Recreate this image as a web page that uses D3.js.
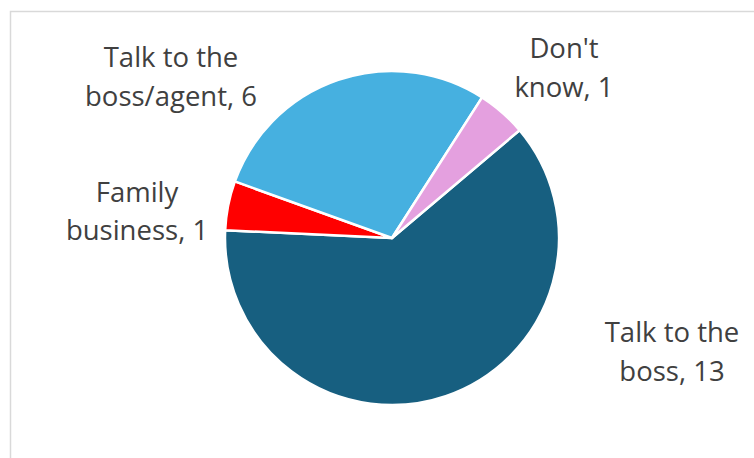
<!DOCTYPE html>
<html>
<head>
<meta charset="utf-8">
<script src="https://cdn.jsdelivr.net/npm/d3@7/dist/d3.min.js"></script>
<style>
  html, body { margin: 0; padding: 0; background: #fff; }
  svg { display: block; }
</style>
</head>
<body>
<svg id="chart" width="754" height="458"></svg>
<script>
// Responses, in drawing order (clockwise from the start angle)
const categories = ["Talk to the boss", "Family business", "Talk to the boss/agent", "Don't know"];
const values = [13, 1, 6, 1];
const colors = ["#175F80", "#FF0000", "#46B0E0", "#E4A0DF"];
// Two-line data labels
const labelLines = [
  ["Talk to the", "boss, 13"],
  ["Family", "business, 1"],
  ["Talk to the", "boss/agent, 6"],
  ["Don't", "know, 1"]
];

// Label block placement (centre x, first baseline), relative to the pie centre
const labelLayout = [
  { dx: 280, dy: 104 },
  { dx: -255, dy: -36.5 },
  { dx: -221, dy: -171 },
  { dx: 172, dy: -180 }
];

const W = 754, H = 458;
const cx = 392, cy = 238, radius = 167;
const startDeg = 49.8;
const lineHeight = 38.6;

const svg = d3.select("#chart");

// Chart-area frame (continues past the right and bottom edges)
svg.append("path")
  .attr("d", `M10.5,${H + 5} V11.5 H${W + 5}`)
  .attr("fill", "none")
  .attr("stroke", "#D9D9D9")
  .attr("stroke-width", 1.5);

const data = categories.map((c, i) => ({ name: c, value: values[i], color: colors[i], lines: labelLines[i], layout: labelLayout[i] }));

const start = startDeg * Math.PI / 180;
const pie = d3.pie()
  .value(d => d.value)
  .sort(null)
  .startAngle(start)
  .endAngle(start + 2 * Math.PI);

const arc = d3.arc().innerRadius(0).outerRadius(radius);

const g = svg.append("g").attr("transform", `translate(${cx},${cy})`);

g.selectAll("path.slice")
  .data(pie(data))
  .join("path")
  .attr("class", "slice")
  .attr("d", arc)
  .attr("fill", d => d.data.color)
  .attr("stroke", "#fff")
  .attr("stroke-width", 2.5)
  .attr("stroke-linejoin", "round");

const labels = g.selectAll("text.lbl")
  .data(pie(data))
  .join("text")
  .attr("class", "lbl")
  .attr("text-anchor", "middle")
  .attr("font-family", "'Open Sans', 'Noto Sans', sans-serif")
  .attr("font-size", 27.5)
  .attr("fill", "#404040")
  .attr("transform", d => `translate(${d.data.layout.dx},${d.data.layout.dy})`);

labels.selectAll("tspan")
  .data(d => d.data.lines)
  .join("tspan")
  .attr("x", 0)
  .attr("y", (t, i) => i * lineHeight)
  .text(t => t);
</script>
</body>
</html>
